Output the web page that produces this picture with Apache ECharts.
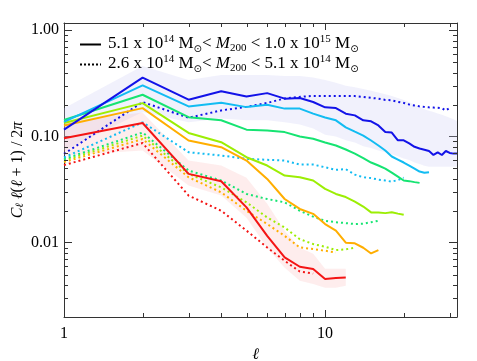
<!DOCTYPE html>
<html>
<head>
<meta charset="utf-8">
<script src="https://cdn.jsdelivr.net/npm/echarts@6/dist/echarts.min.js"></script>
<style>
html, body { margin: 0; padding: 0; background: #fff; }
#chart { width: 477px; height: 361px; }
</style>
</head>
<body>
<div id="chart"></div>
<script>
// multipole l, 1..32
const ells = [1, 2, 3, 4, 5, 6, 7, 8, 9, 10, 11, 12, 13, 14, 15, 16,
  17, 18, 19, 20, 21, 22, 23, 24, 25, 26, 27, 28, 29, 30, 31, 32]

// solid: 5.1e14 < M200 < 1.0e15
const blueSolid = [0.116, 0.358, 0.222, 0.267, 0.238, 0.256, 0.227, 0.230, 0.211, 0.188, 0.185, 0.164,
  0.158, 0.142, 0.139, 0.127, 0.110, 0.109, 0.092, 0.092, 0.086, 0.080, 0.077, 0.075,
  0.073, 0.067, 0.071, 0.067, 0.073, 0.070, 0.069, 0.069]
const cyanSolid = [0.137, 0.303, 0.192, 0.208, 0.189, 0.199, 0.183, 0.183, 0.164, 0.151, 0.142, 0.122,
  0.111, 0.102, 0.0917, 0.0822, 0.0738, 0.0648, 0.0607, 0.0569, 0.0533, 0.0499, 0.0468, 0.0455, 0.0461]
const greenSolid = [0.143, 0.247, 0.152, 0.142, 0.116, 0.114, 0.110, 0.100, 0.0951, 0.0878, 0.0822, 0.0754,
  0.0691, 0.0627, 0.0569, 0.0533, 0.0499, 0.0457, 0.0419, 0.0385, 0.0380, 0.0372, 0.0366]
const limeSolid = [0.134, 0.206, 0.108, 0.0883, 0.0638, 0.0533, 0.0429, 0.0413, 0.0385, 0.0321, 0.0288, 0.0269,
  0.0244, 0.0219, 0.0193, 0.0193, 0.0190, 0.0194, 0.0188, 0.0183]
const orangeSolid = [0.127, 0.185, 0.0917, 0.0793, 0.0594, 0.0399, 0.0258, 0.0208, 0.0187, 0.0150, 0.0130, 0.0100,
  0.00987, 0.00897, 0.00793, 0.00853]
const redSolid = [0.0964, 0.134, 0.0445, 0.0379, 0.0215, 0.0116, 0.00727, 0.00594, 0.00565, 0.00455, 0.00465, 0.00471]

// dotted: 2.6e14 < M200 < 5.1e14
const blueDot = [0.0687, 0.211, 0.150, 0.176, 0.190, 0.207, 0.228, 0.236, 0.241, 0.241, 0.241, 0.241,
  0.240, 0.236, 0.231, 0.227, 0.221, 0.219, 0.212, 0.207, 0.200, 0.196, 0.192, 0.190,
  0.188, 0.187, 0.186, 0.184, 0.176, 0.186]
const cyanDot = [0.0634, 0.136, 0.0711, 0.0662, 0.0616, 0.0603, 0.0594, 0.0544, 0.0544, 0.0513, 0.0485, 0.0493,
  0.0438, 0.0413, 0.0406, 0.0393, 0.0385, 0.0376, 0.0389, 0.0410]
const greenDot = [0.0613, 0.109, 0.0478, 0.0385, 0.0288, 0.0258, 0.0240, 0.0200, 0.0176, 0.0161, 0.0156, 0.0153,
  0.0150, 0.0151, 0.0156, 0.0161]
const limeDot = [0.0594, 0.102, 0.0445, 0.0332, 0.0240, 0.0173, 0.0139, 0.0108, 0.00972, 0.00917, 0.00853, 0.00868, 0.00897]
const orangeDot = [0.0574, 0.0946, 0.0413, 0.0298, 0.0200, 0.0150, 0.0116, 0.00903, 0.00873, 0.00841, 0.00810]
const redDot = [0.0538, 0.0868, 0.0278, 0.0200, 0.0130, 0.00903, 0.00676, 0.00536, 0.00513]

// scatter bands round the blue and red solid curves
const blueHi = [0.184, 0.46, 0.34, 0.38, 0.38, 0.38, 0.37, 0.37, 0.36, 0.34, 0.32, 0.30, 0.29, 0.28, 0.27, 0.26,
  0.25, 0.24, 0.23, 0.22, 0.21, 0.20, 0.19, 0.18, 0.175, 0.17, 0.165, 0.16, 0.155, 0.15, 0.145, 0.14]
const blueLo = [0.074, 0.17, 0.136, 0.148, 0.142, 0.142, 0.136, 0.13, 0.119, 0.104, 0.1, 0.092, 0.088, 0.081, 0.078, 0.074,
  0.071, 0.068, 0.065, 0.062, 0.06, 0.057, 0.055, 0.053, 0.052, 0.052, 0.052, 0.052, 0.052, 0.052, 0.052, 0.052]
const redHi = [0.136, 0.168, 0.0594, 0.0533, 0.0410, 0.0233, 0.0130, 0.00897, 0.00787, 0.00569, 0.00569, 0.00569]
const redLo = [0.0662, 0.0738, 0.0345, 0.0278, 0.0172, 0.00897, 0.00581, 0.00438, 0.00410, 0.00376, 0.00376, 0.00393]

// minor tick positions
const xMinor = [2, 3, 4, 5, 6, 7, 8, 9, 20, 30]
const yMinor = [0.002, 0.003, 0.004, 0.005, 0.006, 0.007, 0.008, 0.009,
  0.02, 0.03, 0.04, 0.05, 0.06, 0.07, 0.08, 0.09,
  0.2, 0.3, 0.4, 0.5, 0.6, 0.7, 0.8, 0.9]

const colors = {
  blue: '#1212e8',
  cyan: '#12bcf2',
  green: '#16e472',
  lime: '#9cee04',
  orange: '#ffae00',
  red: '#f41414'
}
const FONT = 'Liberation Serif'
const AXIS = '#333'

function pairs (vals) {
  return vals.map((v, i) => [ells[i], v])
}

function curve (vals, color, dotted) {
  return {
    type: 'line',
    data: pairs(vals),
    showSymbol: false,
    silent: true,
    z: dotted ? 3 : 4,
    lineStyle: {
      color: color,
      width: 2,
      type: dotted ? [2, 3] : 'solid',
      cap: 'butt'
    }
  }
}

function band (lo, hi, fill) {
  return {
    type: 'custom',
    silent: true,
    z: 1,
    data: pairs(lo),
    renderItem: function (params, api) {
      if (params.dataIndex !== 0) return null
      let pts = []
      hi.forEach((v, i) => pts.push(api.coord([ells[i], v])))
      for (let i = lo.length - 1; i >= 0; i--) pts.push(api.coord([ells[i], lo[i]]))
      return { type: 'polygon', shape: { points: pts }, style: { fill: fill } }
    }
  }
}

function tickLine (x1, y1, x2, y2) {
  return { type: 'line', shape: { x1: x1, y1: y1, x2: x2, y2: y2 }, style: { stroke: AXIS, lineWidth: 1 } }
}

const minorX = {
  type: 'custom',
  silent: true,
  z: 5,
  data: xMinor.map(v => [v, 0.1]),
  renderItem: function (params, api) {
    const p = api.coord([api.value(0), api.value(1)])
    const cs = params.coordSys
    const x = Math.round(p[0]) + 0.5
    return {
      type: 'group',
      children: [
        tickLine(x, cs.y + cs.height, x, cs.y + cs.height - 4),
        tickLine(x, cs.y, x, cs.y + 4)
      ]
    }
  }
}

const minorY = {
  type: 'custom',
  silent: true,
  z: 5,
  data: yMinor.map(v => [3, v]),
  renderItem: function (params, api) {
    const p = api.coord([api.value(0), api.value(1)])
    const cs = params.coordSys
    const y = Math.round(p[1]) + 0.5
    return {
      type: 'group',
      children: [
        tickLine(cs.x, y, cs.x + 4, y),
        tickLine(cs.x + cs.width, y, cs.x + cs.width - 4, y)
      ]
    }
  }
}

function isDecade (v) {
  const l = Math.log10(v)
  return Math.abs(l - Math.round(l)) < 1e-6
}

const xBase = {
  type: 'log',
  logBase: 10,
  min: 1,
  max: 32,
  axisLine: { show: true, lineStyle: { color: AXIS, width: 1 } },
  axisTick: { show: true, inside: true, length: 7, lineStyle: { color: AXIS } },
  splitLine: { show: false }
}
const yBase = {
  type: 'log',
  logBase: 10,
  min: 0.002,
  max: 1.17,
  axisLine: { show: true, lineStyle: { color: AXIS, width: 1 } },
  axisTick: { show: true, inside: true, length: 8, lineStyle: { color: AXIS } },
  splitLine: { show: false }
}

const legendText = '5.1 x 10{sup|14} M{so|⊙}< {it|M}{sub|200} < 1.0 x 10{sup|15} M{so|⊙}\n' +
  '2.6 x 10{sup|14} M{so|⊙}< {it|M}{sub|200} < 5.1 x 10{sup|14} M{so|⊙}'

const option = {
  animation: false,
  backgroundColor: '#fff',
  grid: { left: 64, right: 20, top: 23, bottom: 44, containLabel: false, outerBoundsMode: 'none' },
  xAxis: [
    Object.assign({}, xBase, {
      position: 'bottom',
      name: 'ℓ',
      nameLocation: 'middle',
      nameGap: 30,
      nameMoveOverlap: false,
      nameTextStyle: { fontFamily: FONT, fontSize: 16, fontStyle: 'italic', color: '#000', padding: [0, 10, 0, 0] },
      axisLabel: {
        show: true,
        margin: 9,
        fontFamily: FONT,
        fontSize: 16,
        color: '#000',
        showMaxLabel: false,
        formatter: v => isDecade(v) ? String(Math.round(v)) : ''
      }
    }),
    Object.assign({}, xBase, { position: 'top', axisLabel: { show: false } })
  ],
  yAxis: [
    Object.assign({}, yBase, {
      position: 'left',
      name: '{i|C}{s|ℓ} {i|ℓ}({i|ℓ} + 1) / 2{i|π}',
      nameLocation: 'middle',
      nameGap: 38,
      nameMoveOverlap: false,
      nameTextStyle: {
        fontFamily: FONT,
        fontSize: 16,
        color: '#000',
        rich: {
          i: { fontFamily: FONT, fontSize: 16, fontStyle: 'italic', color: '#000' },
          s: { fontFamily: FONT, fontSize: 11, fontStyle: 'italic', color: '#000', verticalAlign: 'bottom' }
        }
      },
      axisLabel: {
        show: true,
        margin: 5,
        fontFamily: FONT,
        fontSize: 16,
        color: '#000',
        showMinLabel: false,
        showMaxLabel: false,
        formatter: v => isDecade(v) ? v.toFixed(2) : ''
      }
    }),
    Object.assign({}, yBase, { position: 'right', axisLabel: { show: false } })
  ],
  graphic: [
    { type: 'line', z: 10, shape: { x1: 80, y1: 44.5, x2: 101, y2: 44.5 }, style: { stroke: '#000', lineWidth: 2 } },
    { type: 'line', z: 10, shape: { x1: 80, y1: 64.5, x2: 101, y2: 64.5 }, style: { stroke: '#000', lineWidth: 2, lineDash: [2, 2] } },
    {
      type: 'text',
      z: 10,
      x: 108,
      y: 34,
      style: {
        text: legendText,
        fontFamily: FONT,
        fontSize: 17,
        lineHeight: 20,
        fill: '#000',
        verticalAlign: 'top',
        rich: {
          sup: { fontFamily: FONT, fontSize: 11, lineHeight: 8, verticalAlign: 'top', fill: '#000' },
          sub: { fontFamily: FONT, fontSize: 11, lineHeight: 6, verticalAlign: 'bottom', fill: '#000' },
          so: { fontFamily: 'DejaVu Sans', fontSize: 10, lineHeight: 10, verticalAlign: 'bottom', fill: '#000' },
          it: { fontFamily: FONT, fontSize: 17, fontStyle: 'italic', fill: '#000' }
        }
      }
    }
  ],
  series: [
    band(blueLo, blueHi, 'rgba(200, 200, 245, 0.26)'),
    band(redLo, redHi, 'rgba(250, 175, 175, 0.22)'),
    curve(redDot, colors.red, true),
    curve(orangeDot, colors.orange, true),
    curve(limeDot, colors.lime, true),
    curve(greenDot, colors.green, true),
    curve(cyanDot, colors.cyan, true),
    curve(blueDot, colors.blue, true),
    curve(redSolid, colors.red, false),
    curve(orangeSolid, colors.orange, false),
    curve(limeSolid, colors.lime, false),
    curve(greenSolid, colors.green, false),
    curve(cyanSolid, colors.cyan, false),
    curve(blueSolid, colors.blue, false),
    minorX,
    minorY
  ]
}

const myChart = echarts.init(document.getElementById('chart'))
myChart.setOption(option)
</script>
</body>
</html>
